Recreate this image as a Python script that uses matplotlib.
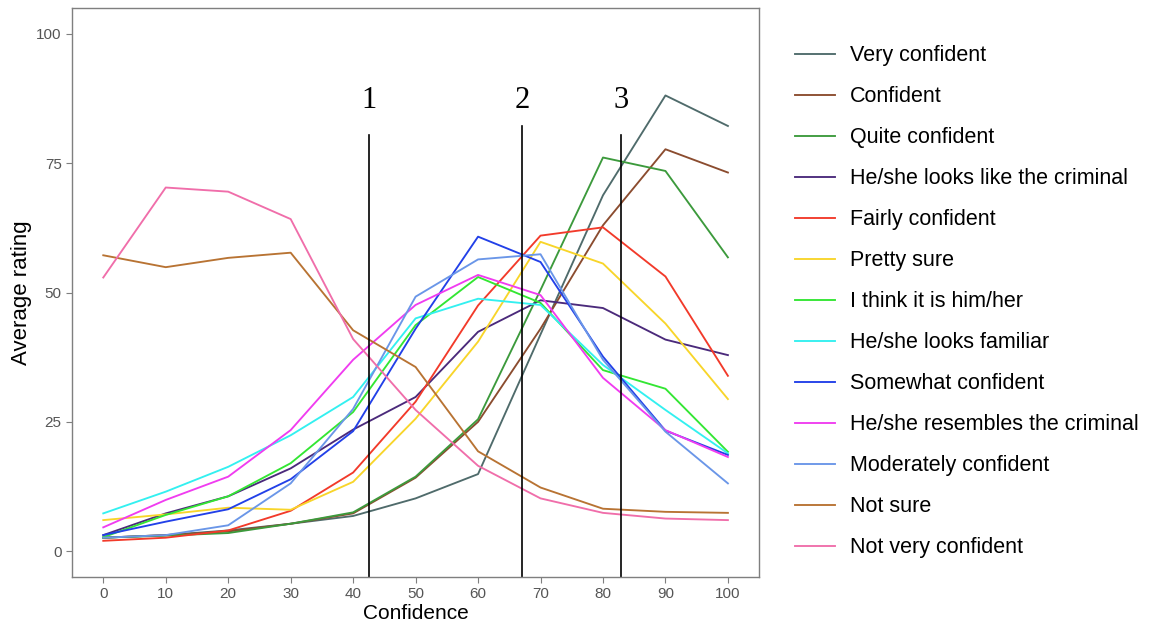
import numpy as np
import matplotlib.pyplot as plt

plt.rcParams['font.family'] = ['Liberation Sans', 'DejaVu Sans']

confidence = [0, 10, 20, 30, 40, 50, 60, 70, 80, 90, 100]

very_confident   = [2.6, 3.1, 4.0, 5.3, 6.8, 10.2, 14.9, 41.9, 68.8, 88.1, 82.2]
confident        = [2.6, 3.1, 3.8, 5.3, 7.3, 14.2, 25.0, 43.0, 63.0, 77.7, 73.2]
quite_confident  = [2.6, 3.0, 3.5, 5.3, 7.5, 14.4, 25.5, 50.5, 76.1, 73.5, 56.8]
looks_like       = [3.1, 7.3, 10.6, 16.0, 23.5, 29.8, 42.4, 48.5, 47.0, 40.9, 37.9]
fairly_confident = [2.0, 2.6, 4.0, 7.8, 15.2, 28.9, 47.5, 61.0, 62.6, 53.1, 33.9]
pretty_sure      = [6.0, 7.1, 8.4, 8.0, 13.4, 25.6, 40.5, 59.8, 55.6, 44.0, 29.4]
think_it_is      = [2.7, 7.0, 10.6, 17.0, 26.9, 43.7, 53.0, 48.0, 35.0, 31.4, 19.2]
looks_familiar   = [7.3, 11.5, 16.3, 22.4, 29.8, 45.0, 48.8, 47.6, 36.0, 27.3, 18.9]
somewhat_conf    = [3.1, 5.7, 8.1, 13.9, 23.2, 43.0, 60.8, 55.9, 37.6, 23.3, 18.6]
resembles        = [4.6, 9.9, 14.4, 23.4, 37.0, 47.6, 53.4, 49.5, 33.5, 23.4, 18.2]
moderately_conf  = [2.6, 3.1, 5.0, 13.1, 27.5, 49.2, 56.4, 57.4, 37.0, 23.1, 13.1]
not_sure         = [57.2, 54.9, 56.7, 57.7, 42.7, 35.6, 19.3, 12.3, 8.2, 7.6, 7.4]
not_very_conf    = [52.9, 70.3, 69.5, 64.2, 41.0, 27.3, 16.5, 10.2, 7.4, 6.3, 6.0]

labels = ['Very confident', 'Confident', 'Quite confident',
          'He/she looks like the criminal', 'Fairly confident', 'Pretty sure',
          'I think it is him/her', 'He/she looks familiar', 'Somewhat confident',
          'He/she resembles the criminal', 'Moderately confident', 'Not sure',
          'Not very confident']
series = [very_confident, confident, quite_confident, looks_like, fairly_confident,
          pretty_sure, think_it_is, looks_familiar, somewhat_conf, resembles,
          moderately_conf, not_sure, not_very_conf]
colors = ['#4f6b6b', '#8b4c2f', '#3c9a3c', '#4b2a7b', '#f23a2a', '#f8d52a',
          '#33e633', '#33f0f0', '#2240e8', '#f03cf0', '#6a96e8', '#b87333',
          '#f06eaa']

# boundaries between the three groups
cutoffs = [42.5, 67.1, 82.9]
cutoff_tops = [80.5, 82.1, 80.5]
cutoff_names = ['1', '2', '3']

fig = plt.figure(figsize=(11.49, 6.28), dpi=100)
ax = fig.add_axes([0.0627, 0.0812, 0.598, 0.906])

for vals, lab, col in zip(series, labels, colors):
    ax.plot(confidence, vals, color=col, lw=1.35, label=lab)

for cx, top, name in zip(cutoffs, cutoff_tops, cutoff_names):
    ax.plot([cx, cx], [-5, top], color='k', lw=1.2)
    ax.text(cx, 85.6, name, ha='center', va='baseline', fontsize=22,
            family='Liberation Serif')

ax.set_xlim(-5, 105)
ax.set_ylim(-5, 105)
ax.set_xticks(confidence)
ax.set_yticks([0, 25, 50, 75, 100])
ax.tick_params(colors='#7f7f7f', labelcolor='#555555', labelsize=11, length=4)
for sp in ax.spines.values():
    sp.set_color('#7f7f7f')
    sp.set_linewidth(1.0)
ax.set_xlabel('Confidence', fontsize=15, labelpad=2)
ax.set_ylabel('Average rating', fontsize=16, labelpad=3)

ax.legend(loc='upper left', bbox_to_anchor=(1.040, 0.950), frameon=False,
          fontsize=15.5, handlelength=1.86, handletextpad=0.7, labelspacing=0.93,
          borderaxespad=0)

fig.savefig('out.png', dpi=100)
